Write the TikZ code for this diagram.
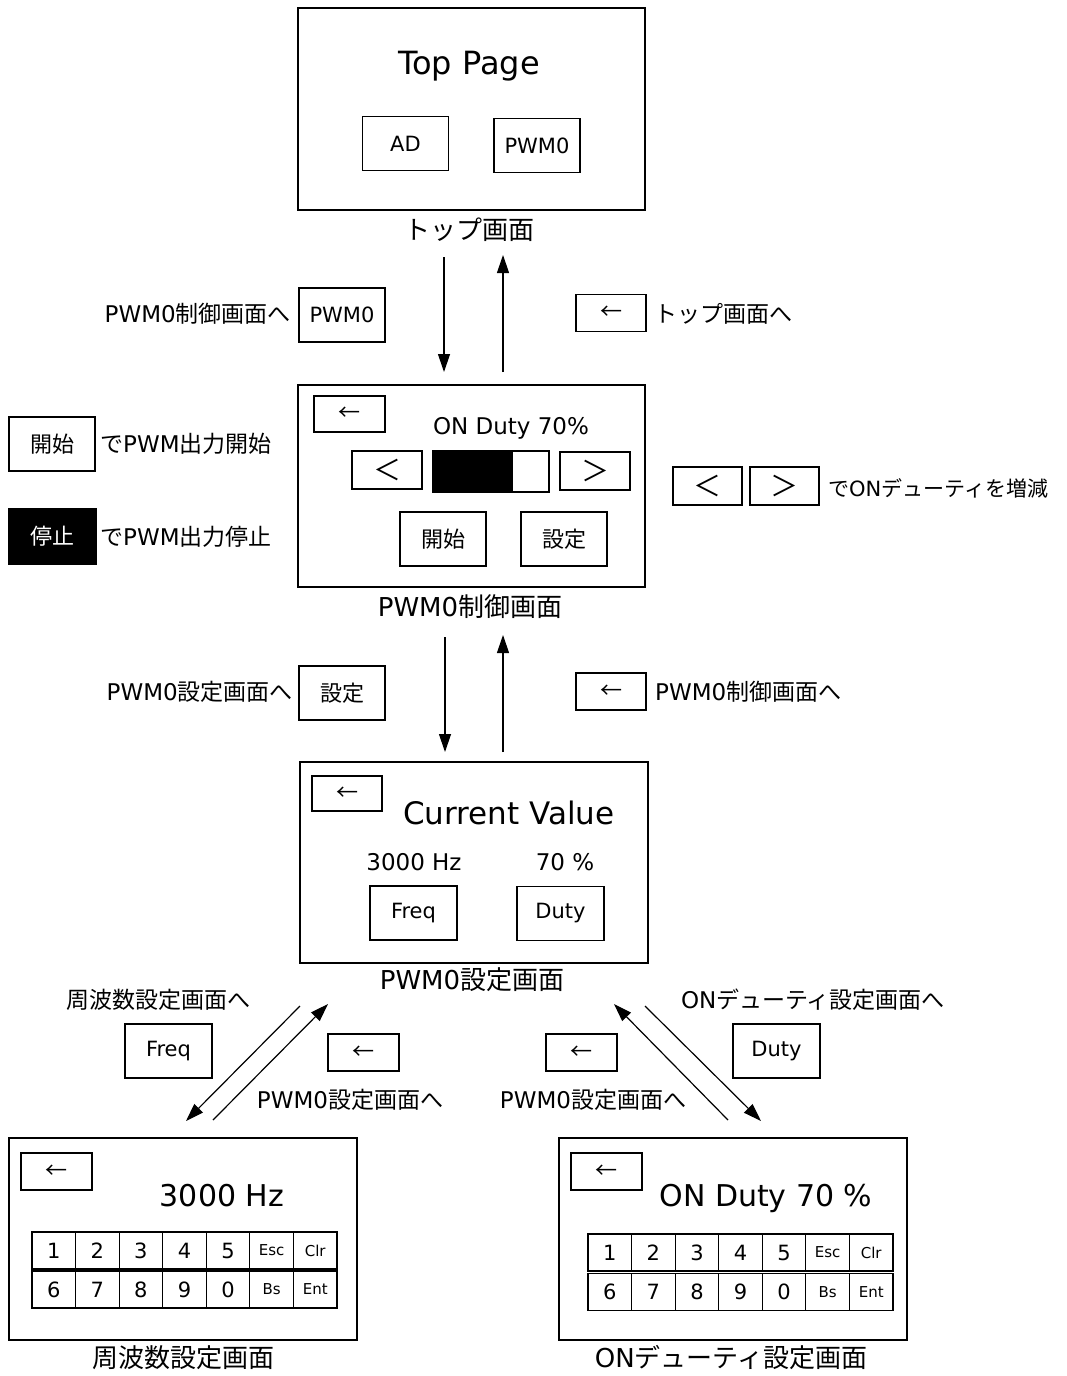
\documentclass[tikz,border=0pt]{standalone}
\usepackage{fontspec}
\setmainfont{DejaVu Sans}
\newfontfamily\jp{Noto Sans CJK JP}
\usetikzlibrary{arrows.meta}

% numeric keypad: name, left x, centre y of row 1, centre y of row 2
\newcommand\keypad[4]{%
  \foreach \k [count=\i from 0] in {1,2,3,4,5}
    \node[key] (#1a\i) at ({#2+(\i+0.5)*43.57},#3) {\k};
  \node[key, font=\fontsize{15}{18}\selectfont] (#1a5) at ({#2+5.5*43.57},#3) {Esc};
  \node[key, font=\fontsize{15}{18}\selectfont] (#1a6) at ({#2+6.5*43.57},#3) {Clr};
  \foreach \k [count=\i from 0] in {6,7,8,9,0}
    \node[key] (#1b\i) at ({#2+(\i+0.5)*43.57},#4) {\k};
  \node[key, font=\fontsize{15}{18}\selectfont] (#1b5) at ({#2+5.5*43.57},#4) {Bs};
  \node[key, font=\fontsize{15}{18}\selectfont] (#1b6) at ({#2+6.5*43.57},#4) {Ent};
}

\begin{document}
\begin{tikzpicture}[x=1pt,y=-1pt,
  screen/.style={draw, line width=1.3pt, minimum width=347pt, minimum height=202pt, inner sep=0pt},
  btn/.style={draw, line width=1.1pt, minimum width=86pt, minimum height=54pt, inner sep=0pt,
    font=\fontsize{21}{25}\selectfont},
  jbtn/.style={btn, font=\jp\fontsize{22}{26}\selectfont},
  back/.style={draw, line width=1.1pt, minimum width=70pt, minimum height=37pt, inner sep=0pt,
    font=\jp\fontsize{22}{26}\selectfont},
  arrowbtn/.style={back, minimum height=38pt, font=\jp\fontsize{28}{30}\selectfont},
  key/.style={draw, line width=1.1pt, minimum width=43.57pt, minimum height=37pt, inner sep=0pt,
    font=\fontsize{21}{25}\selectfont},
  title/.style={font=\fontsize{30}{36}\selectfont, inner sep=0pt},
  value/.style={font=\fontsize{23}{27}\selectfont, inner sep=0pt},
  caption/.style={font=\fontsize{26}{30}\selectfont, inner sep=0pt},
  lbl/.style={font=\fontsize{23}{27}\selectfont, inner sep=0pt},
  arr/.style={line width=1.2pt, -{Triangle[length=18pt,width=12pt]}}
]
\useasboundingbox (0,0) rectangle (1066,1376);

% ---------- top page ----------
\node[screen] (top) at (471.5,109) {};
\node[title, font=\fontsize{32}{38}\selectfont] (toptitle) at (469,66) {Top Page};
\node[btn] (topad) at (405.5,143.5) {AD};
\node[btn] (toppwm) at (537,145.5) {PWM0};
\node[caption] (topcap) at (469,230) {\jp トップ画面};

% ---------- top <-> control ----------
\coordinate (a1s) at (444,257);  \coordinate (a1e) at (444,372);
\coordinate (a2s) at (503,372);  \coordinate (a2e) at (503,255);
\draw[arr] (a1s) -- (a1e);
\draw[arr] (a2s) -- (a2e);
\node[lbl, anchor=east] (l1) at (291,314) {PWM0{\jp 制御画面へ}};
\node[btn] (b1) at (342,315) {PWM0};
\node[back] (b2) at (611,313) {←};
\node[lbl, anchor=west] (l2) at (654,314) {\jp トップ画面へ};

% ---------- PWM0 control page ----------
\node[screen] (ctl) at (471.5,486) {};
\node[back, minimum width=71pt, minimum height=36pt] (ctlback) at (349.5,414) {←};
\node[value] (ctlduty) at (511,428) {ON Duty 70\%};
\node[arrowbtn] (ctldec) at (387,470) {＜};
\node[draw, line width=1.1pt, minimum width=116pt, minimum height=41pt, inner sep=0pt] (bar) at (491,471.5) {};
\node[fill, minimum width=80pt, minimum height=41pt, inner sep=0pt, anchor=west] (barfill) at (bar.west) {};
\node[arrowbtn] (ctlinc) at (595,471) {＞};
\node[jbtn] (ctlstart) at (443,539) {開始};
\node[jbtn] (ctlset) at (564,539) {設定};
\node[caption] (ctlcap) at (470,607) {PWM0{\jp 制御画面}};

% legend, left
\node[jbtn] (lgstart) at (52,444) {開始};
\node[lbl, anchor=west] (lgstarttxt) at (100,444) {{\jp で}PWM{\jp 出力開始}};
\node[jbtn, fill=black, text=white, minimum width=87pt, minimum height=55pt] (lgstop) at (52.5,536.5) {停止};
\node[lbl, anchor=west] (lgstoptxt) at (100,537) {{\jp で}PWM{\jp 出力停止}};

% legend, right
\node[arrowbtn, minimum width=69pt] (lgdec) at (707.5,486) {＜};
\node[arrowbtn, minimum width=69pt] (lginc) at (784.5,486) {＞};
\node[lbl, anchor=west, font=\fontsize{21}{25}\selectfont] (lgduty) at (828,488) {{\jp で}ON{\jp デューティを増減}};

% ---------- control <-> settings ----------
\coordinate (a3s) at (445,637);  \coordinate (a3e) at (445,752);
\coordinate (a4s) at (503,752);  \coordinate (a4e) at (503,635);
\draw[arr] (a3s) -- (a3e);
\draw[arr] (a4s) -- (a4e);
\node[lbl, anchor=east] (l3) at (293,692) {PWM0{\jp 設定画面へ}};
\node[jbtn] (b3) at (342,693) {設定};
\node[back] (b4) at (611,691.5) {←};
\node[lbl, anchor=west] (l4) at (655,692) {PWM0{\jp 制御画面へ}};

% ---------- PWM0 settings page ----------
\node[screen, minimum width=348pt, minimum height=201pt] (set) at (474,862.5) {};
\node[back, minimum height=35pt] (setback) at (347,793.5) {←};
\node[title, font=\fontsize{31}{37}\selectfont] (settitle) at (509,813) {Current Value};
\node[value] (setfreqv) at (414,862) {3000 Hz};
\node[value] (setdutyv) at (565,862) {70 \%};
\node[btn, minimum width=87pt] (setfreq) at (413.5,913) {Freq};
\node[btn, minimum width=87pt] (setduty) at (560.5,913.5) {Duty};
\node[caption] (setcap) at (472,980) {PWM0{\jp 設定画面}};

% ---------- settings <-> frequency / duty ----------
\coordinate (a5s) at (300,1006);  \coordinate (a5e) at (186,1121);
\coordinate (a6s) at (213,1120);  \coordinate (a6e) at (328,1004);
\coordinate (a7s) at (728,1120);  \coordinate (a7e) at (614,1004);
\coordinate (a8s) at (645,1006);  \coordinate (a8e) at (761,1121);
\draw[arr] (a5s) -- (a5e);
\draw[arr] (a6s) -- (a6e);
\draw[arr] (a7s) -- (a7e);
\draw[arr] (a8s) -- (a8e);
\node[lbl] (l5) at (158,1000) {\jp 周波数設定画面へ};
\node[btn, minimum width=87pt] (b5) at (168.5,1051) {Freq};
\node[back, minimum width=71pt] (b6) at (363.5,1052.5) {←};
\node[lbl] (l6) at (350,1100) {PWM0{\jp 設定画面へ}};
\node[back, minimum width=71pt] (b7) at (581.5,1052.5) {←};
\node[lbl] (l7) at (593,1100) {PWM0{\jp 設定画面へ}};
\node[lbl] (l8) at (813,1000) {ON{\jp デューティ設定画面へ}};
\node[btn, minimum width=87pt] (b8) at (776.5,1051) {Duty};

% ---------- frequency entry page ----------
\node[screen, minimum width=348pt] (frq) at (183,1239) {};
\node[back, minimum width=71pt] (frqback) at (56.5,1171.5) {←};
\node[title] (frqtitle) at (222,1196) {3000 Hz};
\keypad{frqk}{32}{1250.5}{1289.5}
\node[caption] (frqcap) at (183,1358) {\jp 周波数設定画面};

% ---------- duty entry page ----------
\node[screen, minimum width=348pt] (dty) at (733,1239) {};
\node[back, minimum width=71pt] (dtyback) at (606.5,1171.5) {←};
\node[title] (dtytitle) at (766,1198) {ON Duty 70 \%};
\keypad{dtyk}{588}{1252.5}{1292}
\node[caption] (dtycap) at (731,1358) {ON{\jp デューティ設定画面}};
\end{tikzpicture}
\end{document}
